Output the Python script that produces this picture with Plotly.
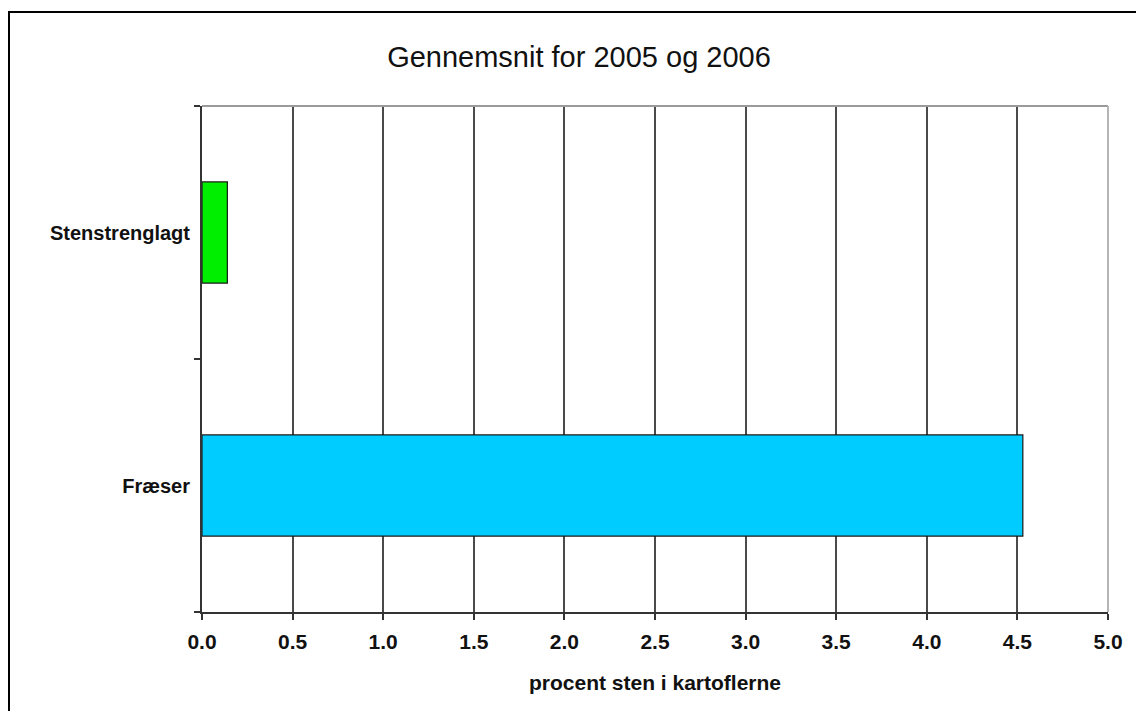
import plotly.graph_objects as go

categories = ["Fræser", "Stenstrenglagt"]
values = [4.53, 0.14]
bar_colors = ["#00CCFF", "#00EE00"]

title_text = "Gennemsnit for 2005 og 2006"
x_title = "procent sten i kartoflerne"
x_ticks = [0.0, 0.5, 1.0, 1.5, 2.0, 2.5, 3.0, 3.5, 4.0, 4.5, 5.0]

W, H = 1136, 711
L, R, T, B = 202, 28, 106, 99

fig = go.Figure()
fig.add_trace(go.Bar(
    y=categories, x=values, orientation="h",
    marker=dict(color=bar_colors, line=dict(color="#1a1a1a", width=1.2)),
    width=0.4, hoverinfo="x+y",
))

def px_x(px):
    return (px - L) / (W - L - R)

def px_y(py):
    return (H - B - py) / (H - T - B)

fig.update_layout(
    width=W, height=H,
    margin=dict(l=L, r=R, t=T, b=B),
    paper_bgcolor="white", plot_bgcolor="white",
    showlegend=False,
    font=dict(family="Liberation Sans, Arial, sans-serif", color="black"),
    title=dict(text=title_text, x=px_x(579), xref="paper", xanchor="center",
               y=1 - 57 / H, yanchor="middle", yref="container",
               font=dict(size=29, family="Liberation Sans, Arial, sans-serif", color="#111")),
    xaxis=dict(
        range=[0, 5], tickvals=x_ticks, ticktext=[f"{v:.1f}" for v in x_ticks],
        showgrid=True, gridcolor="#4a4a4a", gridwidth=2,
        zeroline=False, showline=True, linecolor="#333333", linewidth=2,
        ticks="outside", ticklen=6, tickwidth=2, tickcolor="#333333",
        tickfont=dict(size=21, weight="bold", color="#111"),
        ticklabelstandoff=4,
        title=dict(text=x_title, font=dict(size=21, weight="bold", color="#111"), standoff=23),
        fixedrange=True,
    ),
    yaxis=dict(
        categoryorder="array", categoryarray=categories,
        range=[-0.5, 1.5],
        showgrid=False, zeroline=False,
        showline=True, linecolor="#333333", linewidth=2,
        ticks="outside", ticklen=6, tickwidth=2, tickcolor="#333333",
        tickson="boundaries",
        tickfont=dict(size=20, weight="bold", color="#111"),
        ticklabelstandoff=6,
        fixedrange=True,
    ),
    shapes=[
        dict(type="rect", xref="paper", yref="paper",
             x0=px_x(9), x1=px_x(1160), y0=px_y(740), y1=px_y(12),
             line=dict(color="black", width=2), fillcolor="rgba(0,0,0,0)", layer="below"),
        dict(type="line", xref="paper", yref="paper", x0=0, x1=1, y0=1, y1=1,
             line=dict(color="#9a9a9a", width=2)),
        dict(type="line", xref="paper", yref="paper", x0=1, x1=1, y0=0, y1=1,
             line=dict(color="#b5b5b5", width=2)),
    ],
)

fig.write_html("out.html")
